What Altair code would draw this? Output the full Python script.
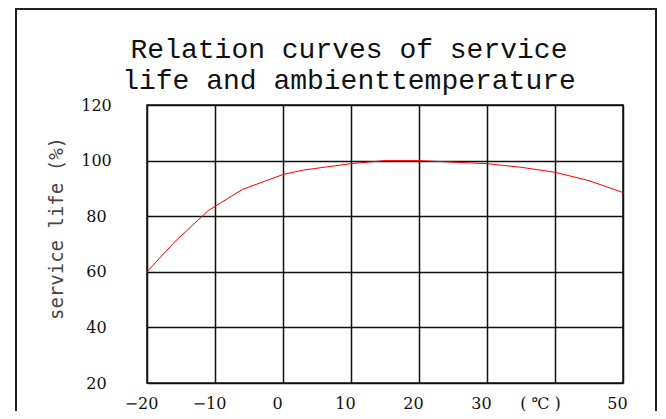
import altair as alt
import pandas as pd

temps = [-20, -16, -11, -6, 0, 3, 10, 15, 20, 30, 35, 40, 45, 50]
life = [60, 70.6, 82, 89.6, 95, 96.6, 98.9, 100, 100, 98.9, 97.6, 95.8, 92.8, 88.5]
x_ticks = [-20, -10, 0, 10, 20, 30, 40, 50]
y_ticks = [20, 40, 60, 80, 100, 120]
title_lines = ["Relation curves of service", "life and ambienttemperature"]
y_title = "service life (%)"
unit_label = "( ℃ )"

df = pd.DataFrame({"t": temps, "life": life})

line = alt.Chart(df).mark_line(color="#ff0000", strokeWidth=1).encode(
    x=alt.X(
        "t:Q",
        scale=alt.Scale(domain=[-20, 50], nice=False, zero=False),
        axis=alt.Axis(
            values=x_ticks,
            title=None,
            grid=True,
            gridColor="#111",
            gridWidth=1.5,
            domain=False,
            ticks=False,
            tickSize=0,
            labelFlush=False,
            labelFont="DejaVu Serif",
            labelFontSize=16,
            labelColor="#111",
            labelBaseline="middle",
            labelPadding=20,
            labelOffset={"condition": {"test": "datum.value == 40", "value": -15}, "value": -6},
            labelExpr=f"datum.value == 40 ? '{unit_label}' : datum.label",
        ),
    ),
    y=alt.Y(
        "life:Q",
        scale=alt.Scale(domain=[20, 120], nice=False, zero=False),
        axis=alt.Axis(
            values=y_ticks,
            title=y_title,
            grid=True,
            gridColor="#111",
            gridWidth=1.5,
            domain=False,
            ticks=False,
            tickSize=0,
            labelFlush=False,
            labelFont="DejaVu Serif",
            labelFontSize=16,
            labelColor="#111",
            labelAlign="center",
            labelBaseline="middle",
            labelPadding=51,
            titleFont="DejaVu Sans Mono",
            titleFontSize=19,
            titleFontWeight="normal",
            titleColor="#444",
            titleAngle=-90,
            titleAlign="center",
            titleBaseline="middle",
            titleX=-91,
            titleY=123,
        ),
    ),
)

border = alt.Chart(pd.DataFrame({"k": [0]})).mark_rect(
    fillOpacity=0, stroke="#222", strokeWidth=2
).encode(
    x=alt.value(-131), x2=alt.value(509), y=alt.value(-96), y2=alt.value(330)
)

chart = alt.layer(border, line).properties(
    width=476,
    height=278,
    autosize=alt.AutoSizeParams(type="none"),
    padding={"left": 139, "top": 97, "right": 35, "bottom": 28},
    background="white",
    title=alt.TitleParams(
        text=title_lines,
        font="Liberation Mono",
        fontSize=28,
        fontWeight="normal",
        color="#111",
        anchor="middle",
        dx=-36,
        dy=109,
        baseline="alphabetic",
        lineHeight=31,
        offset=0,
    ),
).configure_view(stroke="#111", strokeWidth=1.5)

chart.save("out.html", embed_options={"renderer": "svg", "actions": False})
